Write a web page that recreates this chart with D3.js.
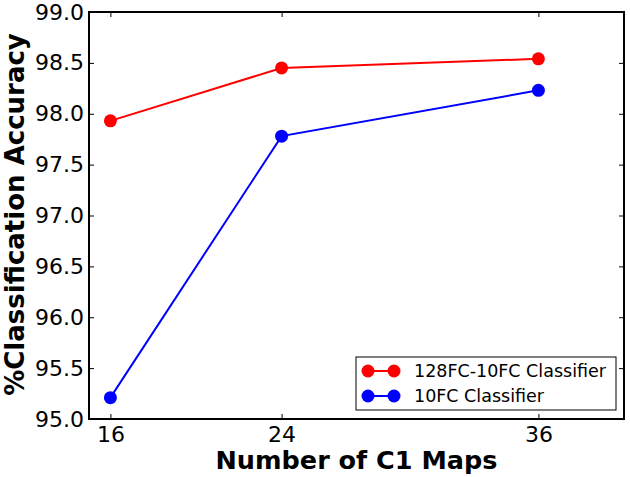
<!DOCTYPE html>
<html><head><meta charset="utf-8">
<script src="https://cdn.jsdelivr.net/npm/d3@7"></script>
<style>body{margin:0;background:#fff}svg{display:block}</style>
</head><body>
<script>
const xValues = [16, 24, 36];
const seriesNames = ["128FC-10FC Classifier", "10FC Classifier"];
const series128 = [97.93, 98.45, 98.54];
const series10 = [95.21, 97.78, 98.23];
const xTicks = [16, 24, 36];
const yTicks = [95.0, 95.5, 96.0, 96.5, 97.0, 97.5, 98.0, 98.5, 99.0];
const colors = ["#ff0000", "#0000ff"];

const W = 630, H = 477;
const L = 89, R = 624, T = 12, B = 419;
const svg = d3.select("body").append("svg").attr("width", W).attr("height", H);
const font = "DejaVu Sans, sans-serif";

const x = d3.scaleLinear().domain([15, 40]).range([L, R]);
const y = d3.scaleLinear().domain([95, 99]).range([B, T]);

const axB = d3.axisBottom(x).tickValues(xTicks).tickSize(-5).tickPadding(7).tickFormat(d3.format("d"));
const axT = d3.axisTop(x).tickValues(xTicks).tickSize(-5).tickFormat("");
const axL = d3.axisLeft(y).tickValues(yTicks).tickSize(-5).tickPadding(5).tickFormat(d3.format(".1f"));
const axR = d3.axisRight(y).tickValues(yTicks).tickSize(-5).tickFormat("");

function style(g) {
  g.select(".domain").remove();
  g.selectAll(".tick line").attr("stroke", "#000").attr("stroke-width", 1);
  g.selectAll(".tick text").attr("fill", "#000").style("font-family", font).style("font-size", "22px");
}
svg.append("g").attr("transform", `translate(0,${B})`).call(axB).call(style);
svg.append("g").attr("transform", `translate(0,${T})`).call(axT).call(style);
svg.append("g").attr("transform", `translate(${L},0)`).call(axL).call(style);
svg.append("g").attr("transform", `translate(${R},0)`).call(axR).call(style);

const allSeries = [series128, series10];
const line = d3.line().x((d, i) => x(xValues[i])).y(d => y(d));
allSeries.forEach((s, k) => {
  svg.append("path").datum(s).attr("d", line).attr("fill", "none")
    .attr("stroke", colors[k]).attr("stroke-width", 2);
  svg.selectAll(null).data(s).enter().append("circle")
    .attr("cx", (d, i) => x(xValues[i])).attr("cy", d => y(d)).attr("r", 6.5)
    .attr("fill", colors[k]);
});

svg.append("rect").attr("x", L).attr("y", T).attr("width", R - L).attr("height", B - T)
  .attr("fill", "none").attr("stroke", "#000").attr("stroke-width", 2);

const lg = svg.append("g");
lg.append("rect").attr("x", 356).attr("y", 357).attr("width", 260).attr("height", 53)
  .attr("fill", "#fff").attr("stroke", "#000").attr("stroke-width", 1);
seriesNames.forEach((n, k) => {
  const yy = 371 + k * 25;
  lg.append("line").attr("x1", 368).attr("x2", 394).attr("y1", yy).attr("y2", yy)
    .attr("stroke", colors[k]).attr("stroke-width", 2);
  lg.append("circle").attr("cx", 368).attr("cy", yy).attr("r", 6.5).attr("fill", colors[k]);
  lg.append("circle").attr("cx", 394).attr("cy", yy).attr("r", 6.5).attr("fill", colors[k]);
  lg.append("text").attr("x", 414).attr("y", yy).attr("dy", "0.36em")
    .style("font-family", font).style("font-size", "17.5px").text(n);
});

svg.append("text").attr("x", (L + R) / 2).attr("y", 469).attr("text-anchor", "middle")
  .style("font-family", font).style("font-weight", "bold").style("font-size", "25.5px")
  .text("Number of C1 Maps");
svg.append("text").attr("transform", `translate(24,${(32 + 397) / 2}) rotate(-90)`)
  .attr("text-anchor", "middle")
  .style("font-family", font).style("font-weight", "bold").style("font-size", "26px")
  .text("%Classification Accuracy");
</script>
</body></html>
